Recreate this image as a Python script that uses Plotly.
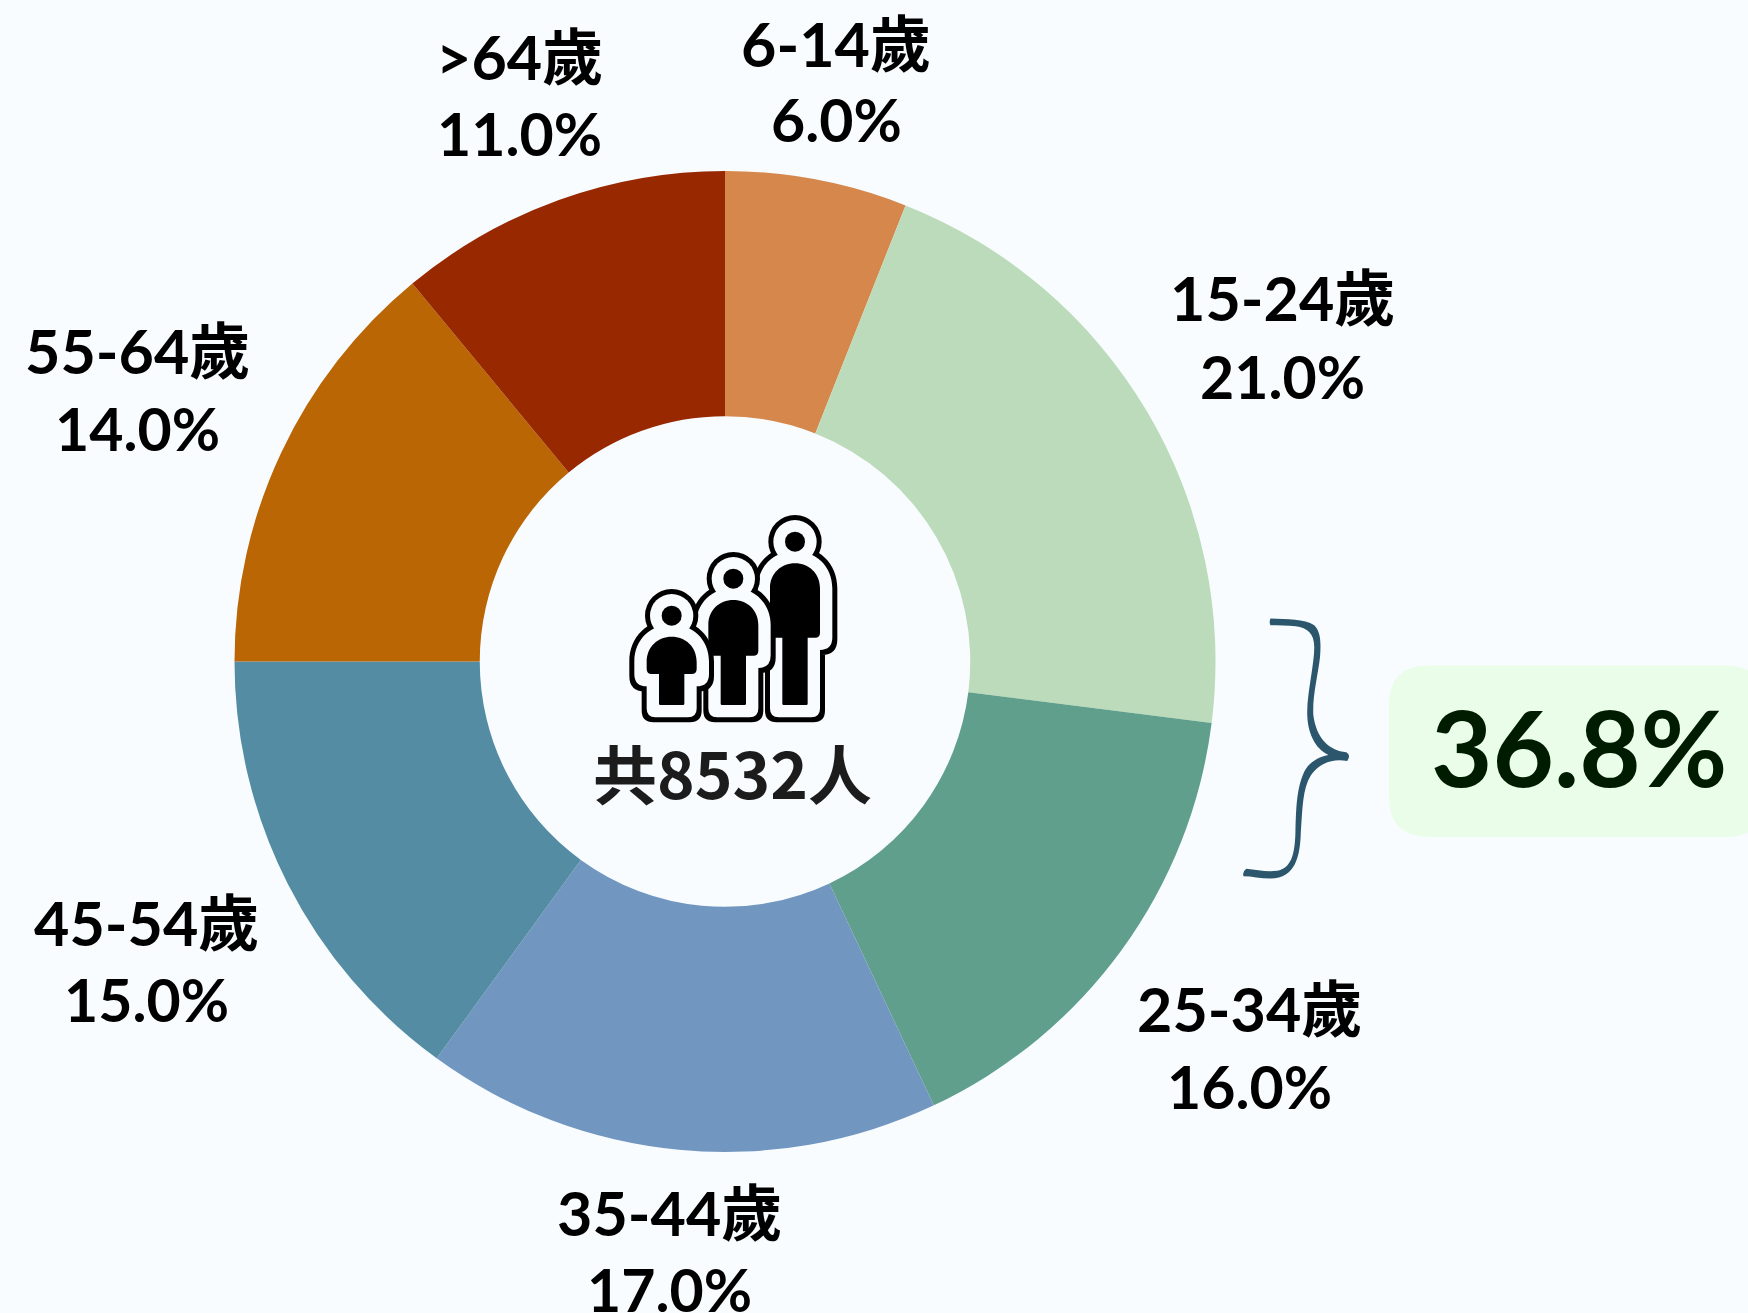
import plotly.graph_objects as go

W, H = 1748, 1313
categories = ["6-14歲", "15-24歲", "25-34歲", "35-44歲", "45-54歲", "55-64歲", ">64歲"]
shares = [6.0, 21.0, 16.0, 17.0, 15.0, 14.0, 11.0]
colors = ["#D5874C", "#BBDBBA", "#5F9F8B", "#7196C0", "#548CA3", "#BA6604", "#982800"]
label_x = [836, 1282, 1249, 669, 146, 137, 519]
line1_y = [43, 297, 1008, 1212, 922, 350, 56]
line2_y = [120, 376, 1086, 1289, 999, 428, 134]
total_text = "共8532人"
highlight_text = "36.8%"

BG = "#F8FCFF"
LABEL_FONT = "Lato, 'Noto Sans CJK TC', sans-serif"
CX, CY, R = 725, 661.5, 490.5


def px(x):
    return x / W


def py(y):
    return 1 - y / H


def path(segments):
    out = []
    for cmd, pts in segments:
        out.append(cmd + " ".join(f"{px(x):.5f},{py(y):.5f}" for x, y in pts))
    return " ".join(out) + " Z"


def circle(cx, cy, r, fill):
    return dict(type="circle", xref="paper", yref="paper", x0=px(cx - r), x1=px(cx + r),
                y0=py(cy + r), y1=py(cy - r), fillcolor=fill, line_width=0, layer="above")


def zi(x, y):
    return (600 + x / 3, 490 + y / 3)


def body(cx, top, tb, bottom, o, fill):
    hw, lw = 75 + o, 38 + o
    t, b, f = top - o, tb + o, bottom + o
    c = 15 + o * 0.6
    lc = 4 + o * 0.6
    segs = [
        ("M", [zi(cx - hw, t + hw)]),
        ("C", [zi(cx - hw, t + hw * 0.4), zi(cx - hw * 0.55, t), zi(cx, t)]),
        ("C", [zi(cx + hw * 0.55, t), zi(cx + hw, t + hw * 0.4), zi(cx + hw, t + hw)]),
        ("L", [zi(cx + hw, b - c)]),
        ("Q", [zi(cx + hw, b), zi(cx + hw - c, b)]),
        ("L", [zi(cx + lw, b)]),
        ("L", [zi(cx + lw, f - lc)]),
        ("Q", [zi(cx + lw, f), zi(cx + lw - lc, f)]),
        ("L", [zi(cx - lw + lc, f)]),
        ("Q", [zi(cx - lw, f), zi(cx - lw, f - lc)]),
        ("L", [zi(cx - lw, b)]),
        ("L", [zi(cx - hw + c, b)]),
        ("Q", [zi(cx - hw, b), zi(cx - hw, b - c)]),
    ]
    return dict(type="path", xref="paper", yref="paper", path=path(segs),
                fillcolor=fill, line_width=0, layer="above")


def person(cx, head_y, top, tb):
    hx, hy = zi(cx, head_y)
    bottom = 645
    return [
        circle(hx, hy, 80 / 3, "#000000"),
        body(cx, top, tb, bottom, 52, "#000000"),
        circle(hx, hy, 65 / 3, BG),
        body(cx, top, tb, bottom, 37, BG),
        circle(hx, hy, 30 / 3, "#000000"),
        body(cx, top, tb, bottom, 0, "#000000"),
    ]


def bz(x, y):
    return (1220 + x / 2.97, 590 + y / 2.97)


brace = [
    ("M", [bz(150, 85)]),
    ("C", [bz(200, 88), bz(250, 85), bz(280, 105)]),
    ("C", [bz(300, 125), bz(300, 160), bz(297, 200)]),
    ("C", [bz(290, 260), bz(275, 310), bz(277, 370)]),
    ("C", [bz(285, 440), bz(325, 478), bz(375, 482)]),
    ("Q", [bz(390, 490), bz(378, 508)]),
    ("C", [bz(340, 500), bz(300, 510), bz(270, 550)]),
    ("C", [bz(245, 590), bz(245, 650), bz(240, 720)]),
    ("C", [bz(238, 790), bz(225, 855), bz(150, 857)]),
    ("C", [bz(120, 857), bz(95, 850), bz(70, 850)]),
    ("Q", [bz(65, 838), bz(78, 828)]),
    ("C", [bz(110, 832), bz(140, 838), bz(170, 834)]),
    ("C", [bz(210, 825), bz(222, 790), bz(224, 720)]),
    ("C", [bz(226, 640), bz(228, 590), bz(250, 540)]),
    ("C", [bz(265, 510), bz(295, 495), bz(322, 490)]),
    ("C", [bz(280, 470), bz(258, 420), bz(259, 360)]),
    ("C", [bz(260, 300), bz(280, 220), bz(280, 170)]),
    ("C", [bz(280, 130), bz(260, 112), bz(225, 108)]),
    ("C", [bz(200, 106), bz(175, 106), bz(150, 105)]),
    ("Q", [bz(145, 95), bz(150, 85)]),
]

badge = [
    ("M", [(1389, 705)]),
    ("Q", [(1389, 665.5), (1429, 665.5)]),
    ("L", [(1725, 665.5)]),
    ("Q", [(1765, 665.5), (1765, 705)]),
    ("L", [(1765, 797)]),
    ("Q", [(1765, 837), (1725, 837)]),
    ("L", [(1429, 837)]),
    ("Q", [(1389, 837), (1389, 797)]),
]

shapes = [
    dict(type="path", xref="paper", yref="paper", path=path(badge),
         fillcolor="#E9FDE9", line_width=0, layer="above"),
    dict(type="path", xref="paper", yref="paper", path=path(brace),
         fillcolor="#2B566C", line_width=0, layer="above"),
]
shapes += person(585, 155, 220, 443)
shapes += person(400, 266, 330, 497)
shapes += person(215, 377, 440, 552)


def note(x, y, text, size, color="#000000", family=LABEL_FONT):
    return dict(xref="paper", yref="paper", x=px(x), y=py(y), text=text, showarrow=False,
                xanchor="center", yanchor="middle",
                font=dict(family=family, size=size, color=color))


annotations = []
for name, share, x, y1, y2 in zip(categories, shares, label_x, line1_y, line2_y):
    annotations.append(note(x, y1, f"<b>{name}</b>", 61))
    annotations.append(note(x, y2, f"<b>{share:.1f}%</b>", 59))
annotations.append(note(732, 771, f"<b>{total_text}</b>", 64, "#1C1C1C",
                        "'Noto Sans CJK TC', sans-serif"))
annotations.append(note(1579, 746, f"<b>{highlight_text}</b>", 106, "#001C00"))

fig = go.Figure(go.Pie(
    labels=categories, values=shares, sort=False, direction="clockwise", rotation=0,
    hole=0.5, marker=dict(colors=colors, line=dict(width=0)), textinfo="none",
    showlegend=False,
    domain=dict(x=[px(CX - R), px(CX + R)], y=[py(CY + R), py(CY - R)]),
))
fig.update_layout(width=W, height=H, margin=dict(l=0, r=0, t=0, b=0), autosize=False,
                  paper_bgcolor=BG, plot_bgcolor=BG, shapes=shapes, annotations=annotations)
fig.write_html("out.html", config=dict(displayModeBar=False),
               post_script="document.body.style.margin='0';document.body.style.background='#F8FCFF';")
